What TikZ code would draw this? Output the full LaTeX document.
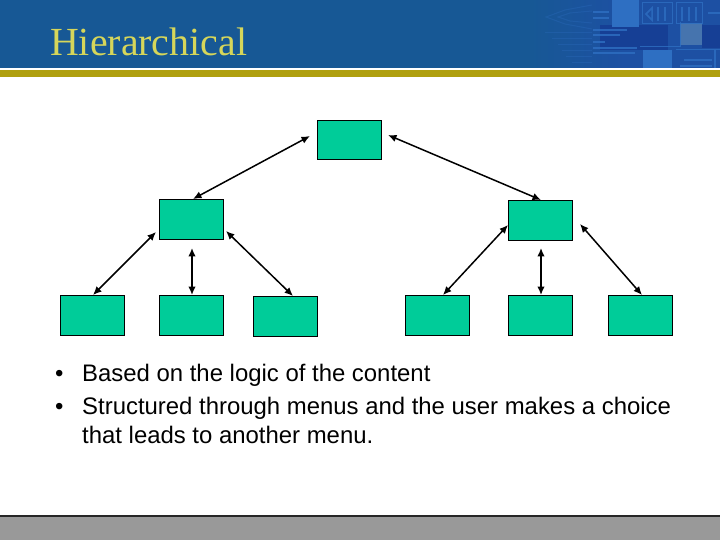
\documentclass[tikz,border=0pt]{standalone}
\usepackage{fontspec}
\setmainfont{Liberation Sans}
\newfontfamily\titlefont{Liberation Serif}
\usetikzlibrary{arrows.meta}
\definecolor{banner}{HTML}{175895}
\definecolor{bannerright}{HTML}{1D50A3}
\definecolor{bannerlight}{HTML}{2E6FC2}
\definecolor{bannerdark}{HTML}{163F95}
\definecolor{gold}{HTML}{B0A00F}
\definecolor{titlecol}{HTML}{D6D65A}
\definecolor{boxfill}{HTML}{00CC99}
\definecolor{footer}{HTML}{999999}
\tikzset{
  menubox/.style={draw=black,line width=0.7bp,fill=boxfill,minimum width=63.8bp,inner sep=0pt,minimum height=39.8bp},
  link/.style={draw=black,line width=1.5bp,{Latex[length=8.5bp,width=7.5bp]}-{Latex[length=8.5bp,width=7.5bp]}},
  bodytext/.style={font=\fontsize{24}{28}\selectfont,anchor=base west,inner sep=0pt},
  circuit/.style={draw=bannerlight,line width=1.5bp,opacity=.8},
  faint/.style={draw=bannerlight,line width=1bp,opacity=.3}
}
\begin{document}
\begin{tikzpicture}[x=1bp,y=-1bp]
\useasboundingbox (0,0) rectangle (720,540);
\fill[white] (0,0) rectangle (720,540);
% banner
\fill[banner] (0,0) rectangle (530,68);
\shade[left color=banner,right color=bannerright,shading angle=90] (530,0) rectangle (625,68);
\fill[bannerright] (625,0) rectangle (720,68);
\fill[bannerdark] (600,25) rectangle (668,50);
\fill[bannerdark] (702,25) rectangle (720,48);
\fill[bannerlight] (612,0) rectangle (639,27);
\fill[bannerlight] (643,50) rectangle (672,68);
\fill[bannerlight!70!gray] (680,23) rectangle (702,45);
\draw[faint] (592,5)--(565,10)--(546,17)--(565,24)--(592,29);
\draw[faint] (592,11)--(570,13)--(558,17)--(570,21)--(592,23);
\draw[faint] (545,33)--(592,33) (552,39)--(592,39) (558,45)--(592,45) (562,51)--(592,51) (566,57)--(592,57) (572,63)--(592,63);
\draw[circuit] (593,12)--(609,12) (593,18)--(609,18);
\draw[circuit,line width=2bp] (593,30)--(627,30) (593,35)--(620,35) (593,42)--(605,42) (593,48)--(637,48) (593,53)--(635,53);
\draw[circuit,line width=1bp] (642,3) rectangle (672,24) (676,3) rectangle (702,24) (640,47)--(680,47)--(680,22) (676,50)--(720,50);
\draw[circuit] (646,14)--(652,8)--(652,20)--cycle;
\draw[circuit,line width=2.5bp] (658,7)--(658,21) (665,7)--(665,21) (682,7)--(682,21) (689,7)--(689,21) (696,7)--(696,21);
\draw[circuit,line width=2bp] (708,13)--(720,13) (684,60)--(712,60) (680,66)--(712,66) (715,50)--(715,68);
\fill[white] (0,68) rectangle (720,70);
\fill[gold] (0,70) rectangle (720,77);
\fill[footer] (0,516) rectangle (720,540);
\fill[black!85] (0,515) rectangle (720,517);
\node[font=\titlefont\fontsize{40}{44}\selectfont,text=titlecol,anchor=base west,inner sep=0pt] (title) at (50,56) {Hierarchical};
% boxes
\node[menubox] (root) at (349,139.9) {};
\node[menubox] (l) at (191.3,219.3) {};
\node[menubox] (r) at (540.3,220.3) {};
\node[menubox] (a) at (92,315) {};
\node[menubox] (b) at (191.3,315) {};
\node[menubox] (c) at (285.3,316) {};
\node[menubox] (d) at (437.3,315) {};
\node[menubox] (e) at (540.3,315) {};
\node[menubox] (f) at (640.3,315) {};
% free ends
\coordinate (rootl) at (310,136);
\coordinate (rootr) at (388,135);
\coordinate (ltop) at (193,199);
\coordinate (rtop) at (541,200);
\coordinate (lw) at (156,232);
\coordinate (ls) at (192,248);
\coordinate (le) at (226,231);
\coordinate (rw) at (508,225);
\coordinate (rs) at (541,248);
\coordinate (re) at (580,224);
\coordinate (at) at (93,295);
\coordinate (bt) at (192,295);
\coordinate (ct) at (293,296);
\coordinate (dt) at (443,295);
\coordinate (et) at (541,295);
\coordinate (ft) at (642,295);
\draw[link] (rootl) -- (ltop);
\draw[link] (rootr) -- (rtop);
\draw[link] (lw) -- (at);
\draw[link] (ls) -- (bt);
\draw[link] (le) -- (ct);
\draw[link] (rw) -- (dt);
\draw[link] (rs) -- (et);
\draw[link] (re) -- (ft);
% text
\node[bodytext] (b1) at (55,381) {•};
\node[bodytext] (t1) at (82,381) {Based on the logic of the content};
\node[bodytext] (b2) at (55,414.5) {•};
\node[bodytext] (t2) at (82,414.5) {Structured through menus and the user makes a choice};
\node[bodytext] (t3) at (82,443.5) {that leads to another menu.};
\end{tikzpicture}
\end{document}
